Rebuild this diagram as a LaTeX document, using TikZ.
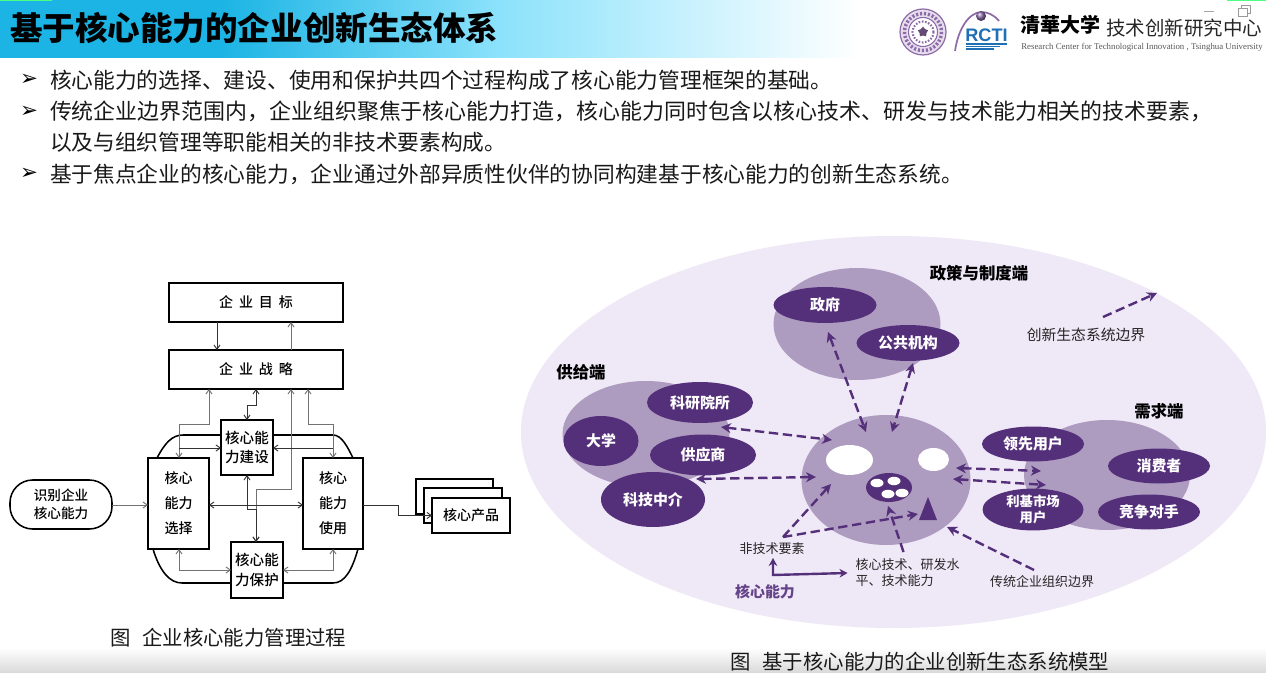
\documentclass[tikz,border=0pt]{standalone}
\usepackage{fontspec}
\setmainfont{Noto Sans CJK SC}
\newfontfamily\medf{Noto Sans CJK SC Medium}
\newfontfamily\bulfont{DejaVu Sans}
\newfontfamily\serifen{Liberation Serif}
\newfontfamily\sansen{Liberation Sans}
\usetikzlibrary{shapes.geometric,arrows.meta,calc,shadings}
\definecolor{bigc}{HTML}{EFE8F7}
\definecolor{midc}{HTML}{AE9BC0}
\definecolor{darkc}{HTML}{55307A}
\definecolor{capc}{HTML}{654389}
\definecolor{headA}{HTML}{1BB4E4}
\definecolor{headB}{HTML}{8CE2FB}
\definecolor{greyl}{HTML}{727272}
\definecolor{darkl}{HTML}{333333}
\definecolor{sealc}{HTML}{8E6BA8}
\definecolor{rctic}{HTML}{1F6FB5}
\tikzset{
  sz/.style 2 args={minimum width=#1*0.75pt,minimum height=#2*0.75pt},
  box/.style={draw=black,line width=1.15pt,fill=white,inner sep=0pt,outer sep=0pt,align=center,font=\fontsize{10.5}{18.8}\medf},
  wide/.style={box,font=\fontsize{10.5}{12}\medf\spaceskip.42em\relax},
  pill/.style={box,rounded corners=17pt},
  blob/.style={ellipse,fill=midc,inner sep=0pt,outer sep=0pt},
  dk/.style={ellipse,fill=darkc,text=white,inner sep=0pt,outer sep=0pt,align=center,font=\fontsize{11.2}{14}\selectfont\bfseries},
  hole/.style={ellipse,fill=white,inner sep=0pt,outer sep=0pt},
  head/.style={inner sep=0pt,outer sep=0pt,font=\fontsize{12.3}{14}\selectfont\bfseries},
  lab/.style={inner sep=0pt,outer sep=0pt,text=black!85,align=left,font=\fontsize{9.75}{12}\selectfont},
  body/.style={anchor=west,inner sep=0pt,outer sep=0pt,text=black!90,font=\fontsize{16.3}{20}\selectfont},
  bul/.style={inner sep=0pt,outer sep=0pt,font=\fontsize{16}{18}\bulfont},
  capt/.style={anchor=west,inner sep=0pt,outer sep=0pt,text=black!90,font=\fontsize{15.3}{18}\selectfont},
  gl/.style={draw=greyl,line width=.7pt,{Straight Barb[length=3.2pt,width=4.6pt]}-{Straight Barb[length=3.2pt,width=4.6pt]}},
  gone/.style={draw=greyl,line width=.7pt,-{Straight Barb[length=3.2pt,width=4.6pt]}},
  dl/.style={draw=darkl,line width=.7pt,{Straight Barb[length=3.2pt,width=4.6pt]}-{Straight Barb[length=3.2pt,width=4.6pt]}},
  done/.style={draw=darkl,line width=.7pt,-{Straight Barb[length=3.2pt,width=4.6pt]}},
  loopl/.style={draw=black,line width=1.15pt},
  dash2/.style={draw=darkc,line width=1.8pt,dash pattern=on 7pt off 3.5pt,{Stealth[length=7.5pt,width=7.5pt]}-{Stealth[length=7.5pt,width=7.5pt]}},
  dash1/.style={draw=darkc,line width=1.8pt,dash pattern=on 7pt off 3.5pt,-{Stealth[length=7.5pt,width=7.5pt]}},
}
\begin{document}
\begin{tikzpicture}[x=0.75pt,y=-0.75pt]
\useasboundingbox (0,0) rectangle (1266,673);
\fill[white] (0,0) rectangle (1266,673);
% header
\fill[headA] (0,0) rectangle (220,58);
\shade[left color=headA,right color=headB] (220,0) rectangle (500,58);
\shade[left color=headB,right color=white] (500,0) rectangle (860,58);
\fill[green!70!cyan!70] (0,0) rectangle (52,1.2);
\fill[green!70!cyan!70] (1227,0) rectangle (1266,1.2);
\node[anchor=west,inner sep=0pt,font=\fontsize{24.4}{28}\selectfont\bfseries] (title) at (10,28) {基于核心能力的企业创新生态体系};
% logos
\draw[sealc,line width=.9pt,fill=sealc!22] (923,32) circle (23);
\draw[sealc,line width=2.6pt,dash pattern=on 1.6pt off 1.4pt] (923,32) circle (18.5);
\draw[sealc,line width=.8pt,fill=white] (923,32) circle (14.5);
\draw[sealc,line width=1.6pt,dash pattern=on 1.2pt off 1.2pt] (923,32) circle (10.5);
\node[star,star points=5,fill=sealc!70!black,inner sep=0pt,minimum size=8pt] (sealstar) at (923,32) {};
\draw[sealc,line width=1.3pt] (955,51) .. controls (958,30) and (968,13) .. (981,12) .. controls (988,12) and (994,15) .. (999,21);
\shade[ball color=sealc] (981,16) circle (5);
\node[inner sep=0pt,text=rctic,font=\fontsize{13.6}{14}\sansen\bfseries] (rcti) at (986.5,35) {RCTI};
\foreach \yy/\xe in {44/1007,46.5/1000,49/994} \draw[rctic,line width=1pt] (966,\yy) -- (\xe,\yy);
\node[anchor=west,inner sep=0pt,font=\fontsize{15}{16}\selectfont\bfseries] (thu) at (1020,25) {清華大学};
\node[anchor=west,inner sep=0pt,text=black!85,font=\fontsize{14.6}{16}\selectfont] (rc) at (1106,28) {技术创新研究中心};
\node[anchor=west,inner sep=0pt,text=black!65,font=\fontsize{6.62}{8}\serifen] (rcen) at (1021,47) {Research Center for Technological Innovation , Tsinghua University};
\draw[black!35,line width=.7pt] (1204,11) -- (1214,11);
\draw[black!40,line width=.7pt] (1238,8) rectangle (1247,16);
\draw[black!40,line width=.7pt] (1241,8) -- (1241,5) -- (1250,5) -- (1250,13) -- (1247,13);
% bullets
\node[bul] (b1) at (29,80) {➢};
\node[bul] (b2) at (29,112) {➢};
\node[bul] (b3) at (29,174) {➢};
\node[body] (t1) at (50,80) {核心能力的选择、建设、使用和保护共四个过程构成了核心能力管理框架的基础。};
\node[body,font=\fontsize{16.45}{20}\selectfont] (t2) at (50,111) {传统企业边界范围内，企业组织聚焦于核心能力打造，核心能力同时包含以核心技术、研发与技术能力相关的技术要素，};
\node[body] (t3) at (50,142) {以及与组织管理等职能相关的非技术要素构成。};
\node[body] (t4) at (50,174) {基于焦点企业的核心能力，企业通过外部异质性伙伴的协同构建基于核心能力的创新生态系统。};
% bottom band
\shade[top color=white,bottom color=black!15] (0,648) rectangle (1266,673);
% ===== left diagram =====
\node[wide,sz={174}{39}] (goal) at (256,302.5) {企 业 目 标};
\node[wide,sz={174}{39}] (strat) at (256,369.5) {企 业 战 略};
\node[box,sz={52}{55},font=\fontsize{10.9}{14.5}\medf] (bld) at (247,447.5) {核心能\\力建设};
\node[box,sz={61}{91}] (sel) at (178.5,503.5) {核心\\能力\\选择};
\node[box,sz={60}{91}] (use) at (333,503.5) {核心\\能力\\使用};
\node[box,sz={52}{56},font=\fontsize{10.9}{14.5}\medf] (prt) at (257,570) {核心能\\力保护};
\node[pill,sz={102}{49},font=\fontsize{10.2}{13.5}\medf] (ident) at (61,504.5) {识别企业\\核心能力};
\node[box,sz={77}{35}] (pa) at (454.5,496.5) {};
\node[box,sz={78}{35}] (pb) at (463,505.5) {};
\node[box,sz={78}{35},font=\fontsize{10.5}{13}\medf] (pc) at (471,515.5) {核心产品};
% guides
\coordinate (xA) at (209,0); \coordinate (xB) at (179,0);
\coordinate (xC) at (256,0); \coordinate (xD) at (247,0);
\coordinate (xE) at (291,0); \coordinate (xF) at (308,0);
\coordinate (xG) at (333,0); \coordinate (xH) at (217,0);
\coordinate (xI) at (398,0); \coordinate (xJ) at (257,0);
\coordinate (yA) at (0,424); \coordinate (yB) at (0,405);
\coordinate (yC) at (0,489); \coordinate (yD) at (0,448);
\coordinate (yE) at (0,509); \coordinate (yF) at (0,505);
\coordinate (yG) at (0,570); \coordinate (yT) at (0,435);
\coordinate (yU) at (0,583);
% outer loop
\draw[loopl] ($(sel.north west)+(9,0)$) .. controls (165,443) and (172,435) .. (183,435) -- (bld.west |- yT);
\draw[loopl] (bld.east |- yT) -- (333,435) .. controls (342,435) and (348,448) .. ($(use.north west)+(50,0)$);
\draw[loopl] ($(sel.south west)+(5,0)$) .. controls (160,572) and (170,583) .. (182,583) -- (prt.west |- yU);
\draw[loopl] (prt.east |- yU) -- (333,583) .. controls (345,583) and (352,570) .. ($(use.south west)+(55,0)$);
% connectors
\draw[done] (goal.south -| xH) -- (strat.north -| xH);
\draw[gone] (strat.north -| xE) -- (goal.south -| xE);
\draw[gl] (strat.south -| xA) -- (xA |- yA) -- (xB |- yA) -- (sel.north -| xB);
\draw[dl] (strat.south -| xC) -- (xC |- yB) -- (xD |- yB) -- (bld.north -| xD);
\draw[gl] (strat.south -| xE) -- (xE |- yC) -- (xC |- yC) -- (prt.north -| xC);
\draw[gl] (strat.south -| xF) -- (xF |- yA) -- (xG |- yA) -- (use.north -| xG);
\draw[done] (xB |- yD) -- (bld.west |- yD);
\draw[done] (xG |- yD) -- (bld.east |- yD);
\draw[dl] (bld.south -| xD) -- (xD |- yE) -- (xC |- yE) -- (prt.north -| xC);
\draw[dl] (sel.east |- yF) -- (use.west |- yF);
\draw[gone] (ident.east |- yF) -- (sel.west |- yF);
\draw[done] (use.east |- yF) -- (xI |- yF) -- (xI |- pc.west) -- (pc.west);
\draw[gl] (sel.south -| xB) -- (xB |- yG) -- (prt.west |- yG);
\draw[gl] (use.south -| xG) -- (xG |- yG) -- (prt.east |- yG);
\node[capt] (capl) at (110,638) {图\hspace{9pt}企业核心能力管理过程};
% ===== right diagram =====
\node[ellipse,fill=bigc,inner sep=0pt,sz={745}{392}] (eco) at (893.5,432) {};
\node[blob,sz={167}{112}] (bpol) at (857,324) {};
\node[blob,sz={167}{106}] (bsup) at (646,434) {};
\node[blob,sz={166}{110}] (bdem) at (1107,475) {};
\node[blob,sz={169}{130}] (ctr) at (886,480) {};
\node[dk,sz={103}{36}] (gov) at (825,305) {政府};
\node[dk,sz={103}{36}] (pub) at (908,343) {公共机构};
\node[dk,sz={106}{41}] (res) at (700,402.5) {科研院所};
\node[dk,sz={75}{50}] (uni) at (601,441) {大学};
\node[dk,sz={106}{41}] (sup) at (703,455) {供应商};
\node[dk,sz={104}{55}] (med) at (653,499.5) {科技中介};
\node[dk,sz={102}{35}] (lead) at (1033,444) {领先用户};
\node[dk,sz={102}{35}] (cons) at (1159,466) {消费者};
\node[dk,sz={101}{35},font=\fontsize{10}{12.5}\selectfont\bfseries] (niche) at (1033,509.5) {利基市场\\用户};
\node[dk,sz={102}{35}] (rival) at (1149,512) {竞争对手};
\node[hole,sz={47}{30}] (w1) at (849.5,460) {};
\node[hole,sz={31}{23}] (w2) at (933.5,459.5) {};
\node[ellipse,fill=darkc,inner sep=0pt,sz={46}{29}] (dot) at (889,487.5) {};
\node[hole,sz={13}{8.5}] (d1) at (877,483) {};
\node[hole,sz={13}{8.5}] (d2) at (894,481) {};
\node[hole,sz={13}{8.5}] (d3) at (888,494) {};
\node[hole,sz={13}{8.5}] (d4) at (902,493) {};
\fill[darkc] (928,497) -- (937,520) -- (919,520) -- cycle;
\node[head] (hpol) at (979,273) {政策与制度端};
\node[head] (hsup) at (581,372) {供给端};
\node[head] (hdem) at (1159,411) {需求端};
\node[lab,font=\fontsize{11.1}{13}\selectfont] (bnd) at (1086,335) {创新生态系统边界};
\node[lab] (nt) at (772,549) {非技术要素};
\node[lab] (ct) at (907.5,573) {核心技术、研发水\\平、技术能力};
\node[lab] (trad) at (1042,582) {传统企业组织边界};
\node[head,text=capc,font=\fontsize{11.2}{13}\selectfont\bfseries] (cap) at (765,592) {核心能力};
\draw[dash2] ($(gov)+(3,27)$) -- ($(ctr)+(-20,-48)$);
\draw[dash2] ($(pub)+(5,20)$) -- ($(ctr)+(6,-48)$);
\draw[dash2] ($(res)+(21,24.5)$) -- ($(ctr)+(-54,-40)$);
\draw[dash2] ($(med)+(43,-20.5)$) -- ($(ctr)+(-70,-3)$);
\draw[dash2] ($(ctr)+(70,-12)$) -- ($(lead)+(8,27)$);
\draw[dash2] ($(ctr)+(67,-1)$) -- ($(niche)+(13,-24.5)$);
\draw[dash1] ($(bnd)+(17,-18)$) -- ($(eco)+(263.5,-139)$);
\coordinate (cnr) at ($(nt)+(11,-12)$);
\draw[dash1] (cnr) -- ($(ctr)+(-55,4)$);
\draw[dash1] (cnr) -- ($(ctr)+(32,34)$);
\draw[dash1] ($(ct)+(-4,-21)$) -- ($(dot)+(-1,18.5)$);
\draw[dash1] ($(trad)+(-8,-12)$) -- ($(ctr)+(61,47)$);
\coordinate (elb) at ($(cap)+(8,-17)$);
\draw[draw=darkc,line width=1.8pt,{Stealth[length=6pt,width=6.5pt]}-{Stealth[length=6pt,width=6.5pt]}] ($(nt)+(1,9)$) -- (elb) -- ($(ct)+(-60,0)$);
\node[capt] (capr) at (730,662) {图\hspace{9pt}基于核心能力的企业创新生态系统模型};
\end{tikzpicture}
\end{document}
